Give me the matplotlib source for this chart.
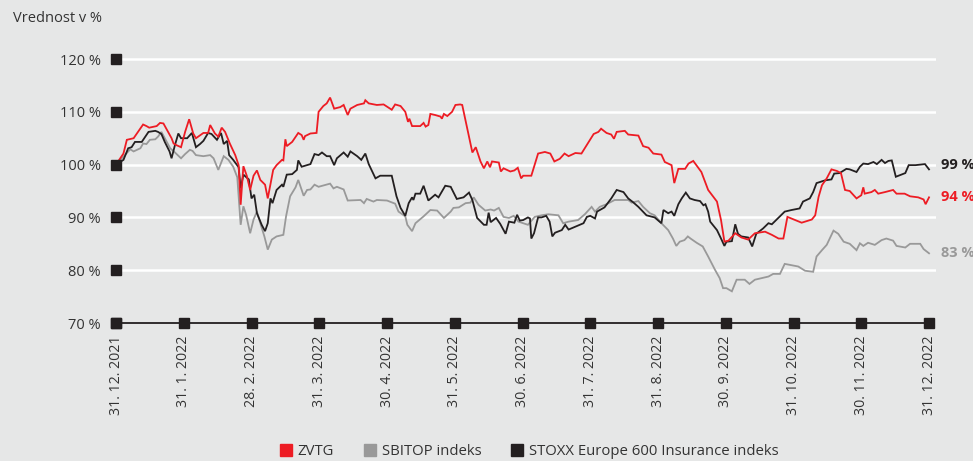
import matplotlib
matplotlib.use("Agg")
import matplotlib.pyplot as plt
from matplotlib.lines import Line2D

# ---------------- data ----------------
tick_labels = ["31. 12. 2021", "31. 1. 2022", "28. 2. 2022", "31. 3. 2022", "30. 4. 2022",
               "31. 5. 2022", "30. 6. 2022", "31. 7. 2022", "31. 8. 2022", "30. 9. 2022",
               "31. 10. 2022", "30. 11. 2022", "31. 12. 2022"]
y_ticks = [70, 80, 90, 100, 110, 120]

series_names = ["ZVTG", "SBITOP indeks", "STOXX Europe 600 Insurance indeks"]
end_labels = ["94 %", "83 %", "99 %"]

# time in months since 31. 12. 2021
zvtg_t = [0, .11, .16, .26, .40, .45, .49, .60, .65, .70, .82, .85, .89, .96, 1.02, 1.08, 1.14, 1.18,
          1.29, 1.36, 1.39, 1.46, 1.51, 1.56, 1.61, 1.68, 1.76, 1.81, 1.84, 1.88, 1.93, 1.98, 2.03,
          2.08, 2.13, 2.20, 2.24, 2.32, 2.37, 2.45, 2.47, 2.50, 2.52, 2.60, 2.69, 2.74, 2.77, 2.79,
          2.87, 2.96, 2.99, 3.06, 3.11, 3.16, 3.22, 3.31, 3.36, 3.42, 3.46, 3.56, 3.66, 3.68, 3.73,
          3.85, 3.95, 4.07, 4.12, 4.20, 4.27, 4.31, 4.33, 4.37, 4.49, 4.54, 4.57, 4.61, 4.64, 4.71,
          4.79, 4.81, 4.84, 4.89, 4.96, 5.01, 5.08, 5.11, 5.21, 5.26, 5.31, 5.38, 5.43, 5.48, 5.52,
          5.55, 5.65, 5.68, 5.72, 5.82, 5.88, 5.93, 5.98, 6.01, 6.13, 6.23, 6.33, 6.41, 6.47, 6.55,
          6.62, 6.68, 6.78, 6.87, 7.05, 7.12, 7.16, 7.24, 7.31, 7.35, 7.39, 7.51, 7.56, 7.71, 7.78,
          7.86, 7.93, 8.05, 8.10, 8.20, 8.24, 8.30, 8.40, 8.45, 8.52, 8.64, 8.74, 8.87, 8.93, 8.98,
          9.04, 9.14, 9.23, 9.33, 9.43, 9.58, 9.68, 9.78, 9.85, 9.91, 10.12, 10.27, 10.32, 10.37,
          10.42, 10.49, 10.56, 10.64, 10.70, 10.76, 10.83, 10.93, 11.00, 11.03, 11.05, 11.15, 11.20,
          11.25, 11.35, 11.47, 11.52, 11.64, 11.72, 11.84, 11.92, 11.95, 12.0]
zvtg_v = [100.0, 102.1, 104.7, 105.0, 107.6, 107.3, 107.0, 107.3, 107.9, 107.8, 105.0, 104.0, 103.7,
          103.3, 106.2, 108.6, 105.9, 105.0, 106.0, 106.0, 107.5, 105.9, 105.3, 107.0, 106.2, 104.0,
          101.8, 99.9, 92.4, 99.7, 97.9, 95.2, 97.9, 98.9, 97.1, 96.2, 93.6, 99.0, 99.9, 100.9, 100.8,
          104.8, 103.5, 104.3, 106.0, 105.6, 104.7, 105.4, 105.9, 106.0, 110.0, 111.1, 111.6, 112.7,
          110.6, 110.9, 111.3, 109.4, 110.6, 111.3, 111.6, 112.2, 111.6, 111.3, 111.4, 110.4, 111.4,
          111.1, 110.0, 108.1, 108.7, 107.3, 107.3, 107.9, 107.2, 107.5, 109.6, 109.4, 109.1, 108.7,
          109.6, 109.2, 110.0, 111.3, 111.4, 111.3, 105.3, 102.3, 103.3, 100.6, 99.3, 100.6, 99.5,
          100.6, 100.4, 98.7, 99.3, 98.7, 98.9, 99.4, 97.4, 97.9, 97.9, 102.1, 102.4, 102.1, 100.6,
          101.1, 102.1, 101.6, 102.2, 102.1, 105.8, 106.2, 106.8, 106.0, 105.7, 104.9, 106.2, 106.4,
          105.7, 105.5, 103.5, 103.2, 102.1, 101.9, 100.5, 99.9, 96.5, 99.2, 99.2, 100.2, 100.7, 98.6,
          95.2, 93.0, 89.5, 85.4, 85.6, 87.0, 86.2, 85.8, 87.0, 87.3, 86.7, 86.0, 86.0, 90.1, 89.0,
          89.6, 90.4, 93.9, 96.1, 97.4, 99.1, 98.8, 98.4, 95.2, 95.0, 93.6, 94.2, 95.7, 94.5, 94.8,
          95.2, 94.5, 94.8, 95.2, 94.5, 94.5, 94.0, 93.8, 93.4, 92.5, 93.8]

sbitop_t = [0, .13, .21, .26, .36, .40, .45, .50, .58, .62, .67, .72, .80, .87, .96, 1.02, 1.09, 1.13,
            1.18, 1.29, 1.39, 1.44, 1.51, 1.59, 1.66, 1.73, 1.79, 1.84, 1.88, 1.92, 1.98, 2.03, 2.08,
            2.13, 2.19, 2.24, 2.30, 2.37, 2.47, 2.51, 2.57, 2.65, 2.69, 2.77, 2.82, 2.87, 2.93, 2.99,
            3.16, 3.21, 3.26, 3.36, 3.42, 3.61, 3.66, 3.70, 3.80, 3.85, 4.00, 4.12, 4.17, 4.27, 4.30,
            4.37, 4.42, 4.54, 4.64, 4.74, 4.84, 4.94, 4.98, 5.06, 5.16, 5.23, 5.28, 5.35, 5.45, 5.53,
            5.58, 5.65, 5.72, 5.80, 5.87, 5.94, 6.08, 6.18, 6.28, 6.38, 6.53, 6.60, 6.68, 6.82, 6.92,
            7.02, 7.07, 7.14, 7.24, 7.36, 7.56, 7.61, 7.71, 7.78, 7.88, 7.95, 8.05, 8.15, 8.22, 8.27,
            8.32, 8.39, 8.44, 8.48, 8.57, 8.66, 8.74, 8.84, 8.91, 8.96, 9.01, 9.09, 9.16, 9.28, 9.35,
            9.43, 9.53, 9.63, 9.70, 9.80, 9.87, 9.95, 10.07, 10.17, 10.29, 10.34, 10.42, 10.49, 10.59,
            10.66, 10.74, 10.83, 10.93, 10.98, 11.03, 11.10, 11.20, 11.30, 11.37, 11.47, 11.52, 11.65,
            11.72, 11.87, 11.92, 12.0]
sbitop_v = [100.0, 101.8, 102.9, 102.5, 103.1, 104.0, 103.9, 104.7, 104.8, 105.3, 106.2, 105.0, 103.1,
            102.3, 101.2, 102.0, 102.8, 102.6, 101.8, 101.6, 101.8, 101.2, 99.0, 101.6, 100.9, 99.6,
            97.6, 88.6, 92.1, 90.5, 87.0, 89.6, 91.1, 88.9, 86.4, 83.9, 85.8, 86.4, 86.7, 90.2, 94.0,
            95.7, 97.1, 94.1, 95.2, 95.3, 96.2, 95.8, 96.4, 95.5, 95.8, 95.3, 93.2, 93.3, 92.7, 93.5,
            93.0, 93.3, 93.2, 92.6, 91.1, 90.2, 88.6, 87.4, 88.9, 90.2, 91.4, 91.3, 89.9, 91.1, 91.8,
            91.9, 92.7, 92.8, 93.8, 92.4, 91.3, 91.5, 91.3, 91.8, 90.1, 89.9, 90.3, 89.2, 88.6, 90.1,
            90.4, 90.6, 90.4, 88.9, 89.2, 89.5, 90.6, 92.0, 91.1, 92.0, 92.5, 93.3, 93.3, 92.8, 93.1,
            92.0, 90.8, 90.4, 88.9, 87.6, 86.0, 84.6, 85.4, 85.7, 86.4, 86.0, 85.2, 84.5, 82.6, 80.1,
            78.5, 76.6, 76.6, 76.0, 78.2, 78.2, 77.4, 78.2, 78.5, 78.8, 79.3, 79.3, 81.2, 81.0, 80.7,
            79.9, 79.7, 82.6, 83.8, 84.8, 87.5, 86.9, 85.4, 85.0, 83.8, 85.1, 84.6, 85.2, 84.8, 85.7,
            86.0, 85.6, 84.6, 84.3, 85.0, 85.0, 84.0, 83.2]

stoxx_t = [0, .11, .18, .23, .28, .38, .48, .58, .62, .67, .72, .79, .82, .87, .92, .96, 1.05, 1.12,
           1.18, 1.24, 1.29, 1.36, 1.41, 1.49, 1.55, 1.59, 1.64, 1.67, 1.73, 1.81, 1.84, 1.88, 1.96,
           2.00, 2.04, 2.08, 2.15, 2.20, 2.24, 2.28, 2.31, 2.37, 2.45, 2.47, 2.52, 2.60, 2.67, 2.69,
           2.74, 2.87, 2.93, 2.99, 3.04, 3.11, 3.16, 3.22, 3.26, 3.36, 3.42, 3.46, 3.56, 3.62, 3.68,
           3.73, 3.83, 3.90, 4.07, 4.14, 4.20, 4.27, 4.32, 4.37, 4.39, 4.42, 4.49, 4.54, 4.61, 4.71,
           4.76, 4.86, 4.94, 5.03, 5.13, 5.21, 5.26, 5.33, 5.43, 5.47, 5.50, 5.53, 5.61, 5.67, 5.75,
           5.80, 5.88, 5.92, 5.96, 6.01, 6.08, 6.11, 6.13, 6.17, 6.23, 6.28, 6.35, 6.40, 6.44, 6.48,
           6.58, 6.63, 6.68, 6.90, 6.95, 7.00, 7.07, 7.10, 7.21, 7.31, 7.39, 7.49, 7.56, 7.63, 7.71,
           7.83, 7.95, 8.05, 8.08, 8.15, 8.20, 8.24, 8.30, 8.35, 8.41, 8.47, 8.54, 8.62, 8.67, 8.70,
           8.74, 8.77, 8.87, 8.93, 8.98, 9.01, 9.09, 9.14, 9.18, 9.23, 9.33, 9.39, 9.45, 9.55, 9.63,
           9.68, 9.87, 9.97, 10.09, 10.14, 10.24, 10.29, 10.34, 10.46, 10.56, 10.60, 10.68, 10.78,
           10.83, 10.93, 10.98, 11.03, 11.10, 11.18, 11.23, 11.30, 11.35, 11.40, 11.45, 11.51, 11.65,
           11.70, 11.80, 11.94, 12.0]
stoxx_v = [100.0, 100.9, 103.1, 103.3, 104.3, 104.3, 106.2, 106.4, 106.2, 105.8, 104.3, 102.5, 101.2,
           103.7, 105.9, 105.0, 105.0, 106.0, 103.3, 103.9, 104.5, 106.0, 105.8, 104.7, 106.0, 103.9,
           104.5, 101.8, 100.9, 99.5, 95.5, 98.1, 97.2, 93.6, 94.3, 90.8, 88.6, 87.4, 88.9, 93.6, 92.7,
           95.2, 96.2, 95.8, 98.1, 98.2, 99.0, 100.8, 99.6, 100.1, 102.0, 101.8, 102.3, 101.6, 101.6,
           99.9, 101.2, 102.3, 101.5, 102.5, 101.6, 100.9, 102.1, 100.1, 97.4, 97.9, 97.9, 94.0, 91.8,
           90.3, 92.7, 93.8, 93.3, 94.5, 94.5, 96.0, 93.2, 94.3, 93.8, 96.0, 95.8, 93.5, 93.8, 94.7,
           93.3, 89.9, 88.6, 88.6, 90.9, 89.1, 89.9, 88.8, 86.9, 89.2, 89.0, 90.5, 89.4, 89.5, 90.0,
           89.8, 86.0, 87.0, 90.0, 90.0, 90.3, 89.2, 86.4, 87.1, 87.6, 88.6, 87.7, 88.9, 90.1, 90.3,
           89.8, 91.1, 91.9, 93.6, 95.2, 94.8, 93.6, 92.9, 92.0, 90.4, 90.0, 88.9, 91.4, 90.8, 91.1,
           90.3, 92.5, 93.6, 94.7, 93.6, 93.3, 93.1, 92.3, 92.5, 91.1, 89.2, 87.6, 86.0, 84.6, 85.4,
           85.5, 88.7, 86.9, 86.4, 86.2, 84.5, 86.9, 87.9, 88.9, 88.7, 91.1, 91.4, 91.7, 93.0, 93.6,
           94.8, 96.5, 97.0, 97.2, 98.3, 98.4, 99.2, 99.1, 98.6, 99.6, 100.2, 100.1, 100.5, 100.1,
           100.9, 100.3, 100.7, 100.8, 97.7, 98.4, 99.9, 99.9, 100.1, 99.1]

colors = ["#ed1c24", "#999999", "#231f20"]
bg = "#e6e7e7"
text_col = "#333333"

# ---------------- figure ----------------
plt.rcParams['font.family'] = ['Open Sans', 'DejaVu Sans']
fig = plt.figure(figsize=(9.73, 4.61), dpi=100, facecolor=bg)
ax = fig.add_axes([116 / 973, 138 / 461, 819.8 / 973, 266.6 / 461])
ax.set_facecolor(bg)
ax.set_xlim(0, 12.1)
ax.set_ylim(70, 120.5)
for s in ax.spines.values():
    s.set_visible(False)

# horizontal white grid lines (skip base line)
for yv in y_ticks[1:]:
    ax.axhline(yv, xmin=0, xmax=1, color="white", lw=1.8, zorder=1)

# base axis line
ax.plot([0, 12], [70, 70], color="#231f20", lw=1.3, zorder=3, clip_on=False)

series = [(zvtg_t, zvtg_v), (sbitop_t, sbitop_v), (stoxx_t, stoxx_v)]
order = [1, 2, 0]
for i in order:
    t, v = series[i]
    ax.plot(t, v, color=colors[i], lw=1.3, zorder=4 + (i == 0), solid_joinstyle="miter")

# square tick markers
xt = list(range(len(tick_labels)))
ax.plot(xt, [70] * len(xt), ls="none", marker="s", ms=6.5, color="#231f20", zorder=6, clip_on=False)
ax.plot([0] * len(y_ticks), y_ticks, ls="none", marker="s", ms=6.5, color="#231f20", zorder=6, clip_on=False)

ax.set_xticks(xt)
ax.set_xticklabels(tick_labels, rotation=90, va="top", ha="center")
ax.set_yticks(y_ticks)
ax.set_yticklabels([f"{y} %" for y in y_ticks])
ax.tick_params(axis="x", length=0, pad=9, labelsize=10.2, labelcolor=text_col)
ax.tick_params(axis="y", length=0, pad=11, labelsize=10.5, labelcolor=text_col)

# end labels
end_vals = [zvtg_v[-1], sbitop_v[-1], stoxx_v[-1] + 0.9]
for i in range(3):
    ax.text(12.17, end_vals[i], end_labels[i], color=colors[i], fontsize=10.5,
            fontweight="bold", va="center", ha="left", clip_on=False)

fig.text(13 / 973, 1 - 18 / 461, "Vrednost v %", fontsize=10.5, color=text_col,
         va="center", ha="left")

handles = [Line2D([], [], ls="none", marker="s", ms=9, color=c) for c in colors]
fig.legend(handles, series_names, loc="center", bbox_to_anchor=(0.543, 0.02), ncol=3,
           frameon=False, fontsize=10.7, handletextpad=0.3, columnspacing=1.9,
           labelcolor=text_col, handlelength=1.0)

fig.savefig("out.png", dpi=100, facecolor=bg)
